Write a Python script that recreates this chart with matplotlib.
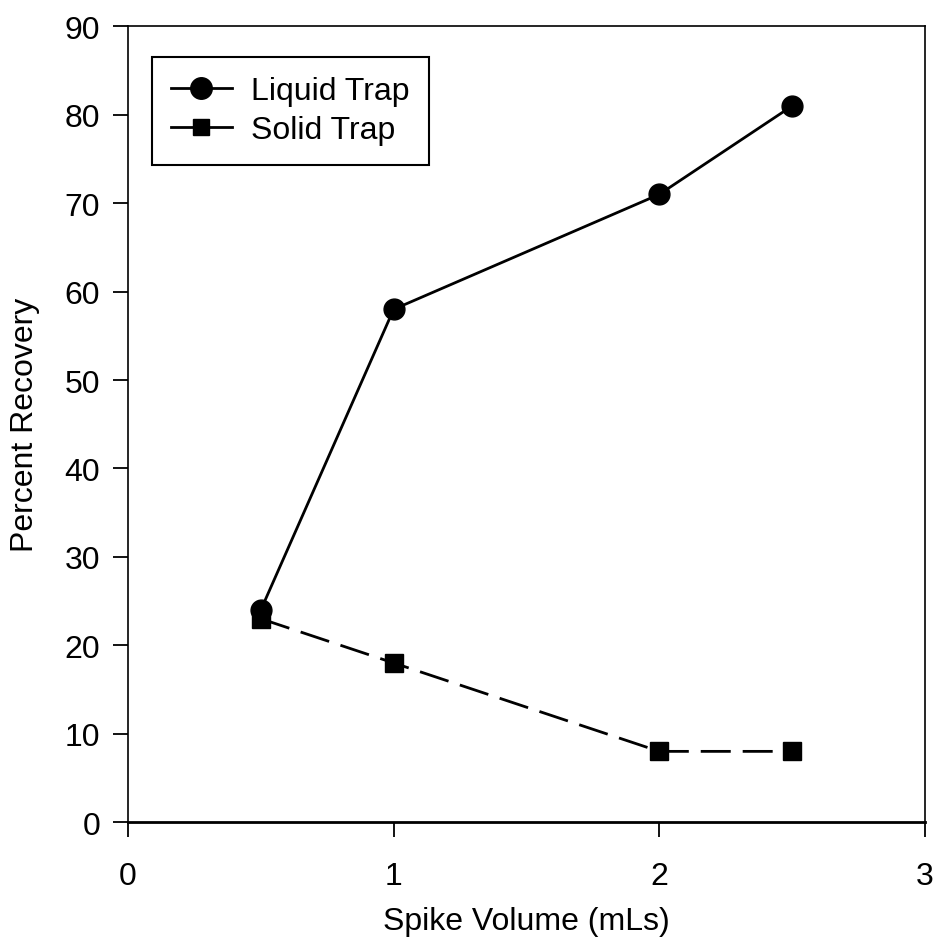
import numpy as np
import matplotlib
matplotlib.use("Agg")
import matplotlib.pyplot as plt
from matplotlib.lines import Line2D

plt.rcParams['font.family'] = ['Liberation Sans', 'DejaVu Sans']

# data
spike_volume = [0.5, 1, 2, 2.5]
liquid_trap = [24, 58, 71, 81]
solid_trap = [23, 18, 8, 8]

x_ticks = [0, 1, 2, 3]
y_ticks = [0, 10, 20, 30, 40, 50, 60, 70, 80, 90]

fig = plt.figure(figsize=(9.38, 9.45), dpi=100)
ax = fig.add_axes([0.1365, 0.129, 0.8495, 0.842])

ax.plot(spike_volume, liquid_trap, color='black', lw=2, marker='o', ms=15,
        label='Liquid Trap')
ax.plot(spike_volume, solid_trap, color='black', lw=2, marker='s', ms=13,
        dashes=(10.8, 4.3), label='Solid Trap')

ax.set_xlim(0, 3)
ax.set_ylim(0, 90)
ax.set_xticks(x_ticks)
ax.set_yticks(y_ticks)
ax.tick_params(direction='out', length=11, width=1.3, labelsize=23)
ax.tick_params(axis='x', pad=17)
ax.tick_params(axis='y', pad=9)

for s in ['left', 'top', 'right']:
    ax.spines[s].set_linewidth(1.2)
ax.spines['bottom'].set_linewidth(2)

ax.set_xlabel('Spike Volume (mLs)', fontsize=23, labelpad=11)
ax.set_ylabel('Percent Recovery', fontsize=23, labelpad=18)

# legend shows both series with solid lines
handles = [Line2D([], [], color='black', lw=2, marker='o', ms=15.5),
           Line2D([], [], color='black', lw=2, marker='s', ms=12)]
leg = ax.legend(handles, ['Liquid Trap', 'Solid Trap'], loc='upper left',
                bbox_to_anchor=(0.03, 0.962), fontsize=23, frameon=True,
                fancybox=False, edgecolor='black', framealpha=1,
                handlelength=1.9, handletextpad=0.6, labelspacing=0.3,
                borderpad=0.6, borderaxespad=0)
leg.get_frame().set_linewidth(1.5)

fig.savefig('out.png', dpi=100)
